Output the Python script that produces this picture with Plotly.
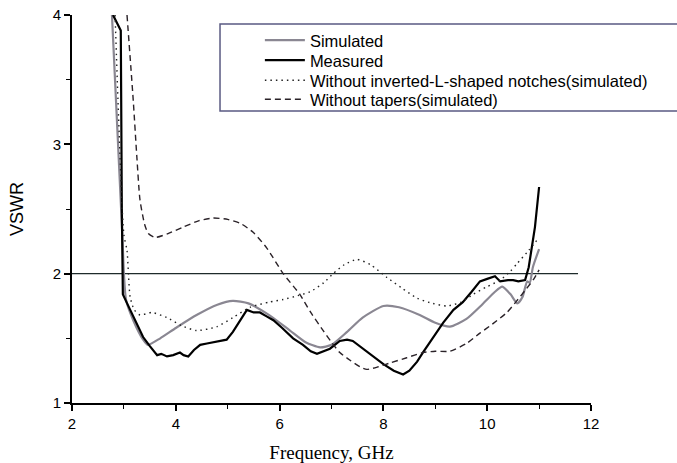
import plotly.graph_objects as go

# ---- data ----
sim_f = [2.77, 2.97, 3.0, 3.04, 3.18, 3.37, 3.46, 3.7, 4.0, 4.4, 4.8, 5.1, 5.4, 5.8, 6.2, 6.5, 6.78,
         7.0, 7.3, 7.6, 8.0, 8.3, 8.7, 9.0, 9.28, 9.6, 9.9, 10.15, 10.29, 10.45, 10.58, 10.68,
         10.77, 10.82, 10.88, 11.0]
sim_v = [4.0, 2.3, 2.0, 1.8, 1.64, 1.49, 1.45, 1.5, 1.58, 1.68, 1.76, 1.79, 1.77, 1.68, 1.56, 1.47, 1.43,
         1.45, 1.55, 1.66, 1.75, 1.74, 1.68, 1.62, 1.59, 1.65, 1.76, 1.86, 1.90, 1.84, 1.77, 1.82,
         1.94, 1.93, 2.05, 2.19]

meas_f = [2.79, 2.94, 2.96, 2.98, 3.05, 3.18, 3.28, 3.37, 3.5, 3.64, 3.72, 3.83, 3.95, 4.08, 4.15, 4.24,
          4.35, 4.47, 4.6, 4.72, 4.85, 4.98, 5.1, 5.25, 5.37, 5.5, 5.62, 5.75, 5.88, 6.05, 6.26, 6.45,
          6.6, 6.72, 6.85, 6.97, 7.16, 7.3, 7.41, 7.6, 7.8, 8.0, 8.2, 8.38, 8.5, 8.65, 8.76, 8.95,
          9.15, 9.35, 9.53, 9.7, 9.86, 10.0, 10.15, 10.25, 10.4, 10.5, 10.6, 10.73, 10.8, 10.92, 11.0]
meas_v = [4.0, 3.88, 2.5, 1.84, 1.78, 1.67, 1.58, 1.51, 1.44, 1.37, 1.38, 1.36, 1.37, 1.39, 1.37, 1.36,
          1.41, 1.45, 1.46, 1.47, 1.48, 1.49, 1.55, 1.64, 1.72, 1.70, 1.70, 1.67, 1.64, 1.58, 1.50, 1.45,
          1.40, 1.38, 1.40, 1.42, 1.48, 1.49, 1.48, 1.42, 1.36, 1.30, 1.25, 1.22, 1.25, 1.32, 1.39, 1.50,
          1.62, 1.72, 1.78, 1.86, 1.94, 1.96, 1.98, 1.94, 1.95, 1.95, 1.94, 1.95, 2.05, 2.36, 2.67]

nonotch_f = [2.83, 3.0, 3.06, 3.12, 3.2, 3.31, 3.54, 3.83, 4.1, 4.4, 4.79, 5.1, 5.43, 5.8, 6.07, 6.35,
             6.59, 6.85, 7.03, 7.25, 7.49, 7.75, 8.07, 8.35, 8.65, 8.95, 9.22, 9.5, 9.73, 10.0, 10.25,
             10.45, 10.58, 10.8, 11.0]
nonotch_v = [4.0, 2.3, 2.18, 1.82, 1.72, 1.68, 1.70, 1.66, 1.60, 1.56, 1.59, 1.66, 1.74, 1.78, 1.80, 1.83,
             1.86, 1.93, 2.0, 2.07, 2.11, 2.07, 1.97, 1.89, 1.81, 1.77, 1.75, 1.78, 1.84, 1.90, 1.95,
             2.02, 2.08, 2.18, 2.28]

notaper_f = [3.06, 3.18, 3.25, 3.31, 3.4, 3.47, 3.6, 3.85, 4.14, 4.45, 4.72, 5.0, 5.24, 5.49, 5.75, 6.07,
             6.39, 6.6, 6.84, 7.0, 7.16, 7.36, 7.55, 7.68, 7.9, 8.13, 8.45, 8.76, 9.0, 9.28, 9.6, 9.86,
             10.1, 10.38, 10.55, 10.73, 10.9, 11.0]
notaper_v = [4.0, 3.34, 2.9, 2.57, 2.38, 2.31, 2.28, 2.31, 2.36, 2.41, 2.43, 2.42, 2.39, 2.32, 2.20, 2.0,
             1.84, 1.70, 1.56, 1.47, 1.39, 1.33, 1.28, 1.26, 1.28, 1.31, 1.35, 1.39, 1.40, 1.40, 1.46, 1.54,
             1.61, 1.70, 1.78, 1.87, 1.96, 2.03]

ref_f = [2.0, 11.75]
ref_v = [2.0, 2.0]

names = ["Simulated", "Measured",
         "Without inverted-L-shaped notches(simulated)", "Without tapers(simulated)"]

x_ticks = [2, 4, 6, 8, 10, 12]
y_ticks = [1, 2, 3, 4]

# ---- figure ----
fig = go.Figure()
fig.add_trace(go.Scatter(x=ref_f, y=ref_v, mode="lines", showlegend=False,
                         line=dict(color="#1e2b2b", width=1.3), hoverinfo="skip"))
fig.add_trace(go.Scatter(x=sim_f, y=sim_v, mode="lines", name=names[0], legend="legend",
                         line=dict(color="#8a8792", width=2.2, shape="spline", smoothing=0.6)))
fig.add_trace(go.Scatter(x=meas_f, y=meas_v, mode="lines", name=names[1], legend="legend2",
                         line=dict(color="#000000", width=2.2)))
fig.add_trace(go.Scatter(x=nonotch_f, y=nonotch_v, mode="lines", name=names[2], legend="legend3",
                         line=dict(color="#222222", width=1.4, dash="1.5px,4px",
                                   shape="spline", smoothing=0.6)))
fig.add_trace(go.Scatter(x=notaper_f, y=notaper_v, mode="lines", name=names[3], legend="legend4",
                         line=dict(color="#2a2228", width=1.4, dash="6px,4px",
                                   shape="spline", smoothing=0.6)))

axis_font = dict(family="Liberation Sans, Arial, sans-serif", size=15, color="#000")

fig.update_xaxes(range=[2, 12], tickvals=x_ticks, ticktext=[str(v) for v in x_ticks],
                 automargin=False,
                 showgrid=False, zeroline=False, showline=True, linecolor="#000", linewidth=2,
                 ticks="outside", ticklen=6, tickwidth=1.5, tickcolor="#000", tickfont=axis_font,
                 minor=dict(dtick=1, tick0=2, ticks="outside", ticklen=4, tickwidth=1.3,
                            tickcolor="#000", showgrid=False),
                 title=dict(text="Frequency, GHz",
                            font=dict(family="Liberation Serif, Times New Roman, serif",
                                      size=19, color="#000"),
                            standoff=16))
fig.update_yaxes(range=[1, 4], tickvals=y_ticks, ticktext=[str(v) for v in y_ticks],
                 automargin=False,
                 showgrid=False, zeroline=False, showline=True, linecolor="#000", linewidth=2,
                 ticks="outside", ticklen=6, tickwidth=1.5, tickcolor="#000", tickfont=axis_font,
                 minor=dict(dtick=0.5, tick0=1, ticks="outside", ticklen=4, tickwidth=1.3,
                            tickcolor="#000", showgrid=False),
                 title=dict(text="VSWR",
                            font=dict(family="Liberation Sans, Arial, sans-serif",
                                      size=18, color="#000"),
                            standoff=24))

# legend frame (as in the original, it runs off the right edge)
fig.add_shape(type="rect", xref="paper", yref="paper",
              x0=0.2852, x1=1.3, y0=0.7526, y1=0.9768,
              line=dict(color="#5a5a82", width=1.5), fillcolor="rgba(0,0,0,0)")

legend_font = dict(family="Liberation Sans, Arial, sans-serif", size=16.5, color="#000")
row_y = [0.9343, 0.8828, 0.8313, 0.7823]


def leg(y):
    return dict(x=0.362, y=y, xanchor="left", yanchor="middle",
                bgcolor="rgba(0,0,0,0)", borderwidth=0, font=legend_font,
                itemwidth=40)


fig.update_layout(
    width=677, height=463,
    margin=dict(l=72, r=86, t=15, b=60, autoexpand=False),
    paper_bgcolor="white", plot_bgcolor="white",
    showlegend=True,
    legend=leg(row_y[0]), legend2=leg(row_y[1]),
    legend3=leg(row_y[2]), legend4=leg(row_y[3]),
)

fig.write_html("out.html")
